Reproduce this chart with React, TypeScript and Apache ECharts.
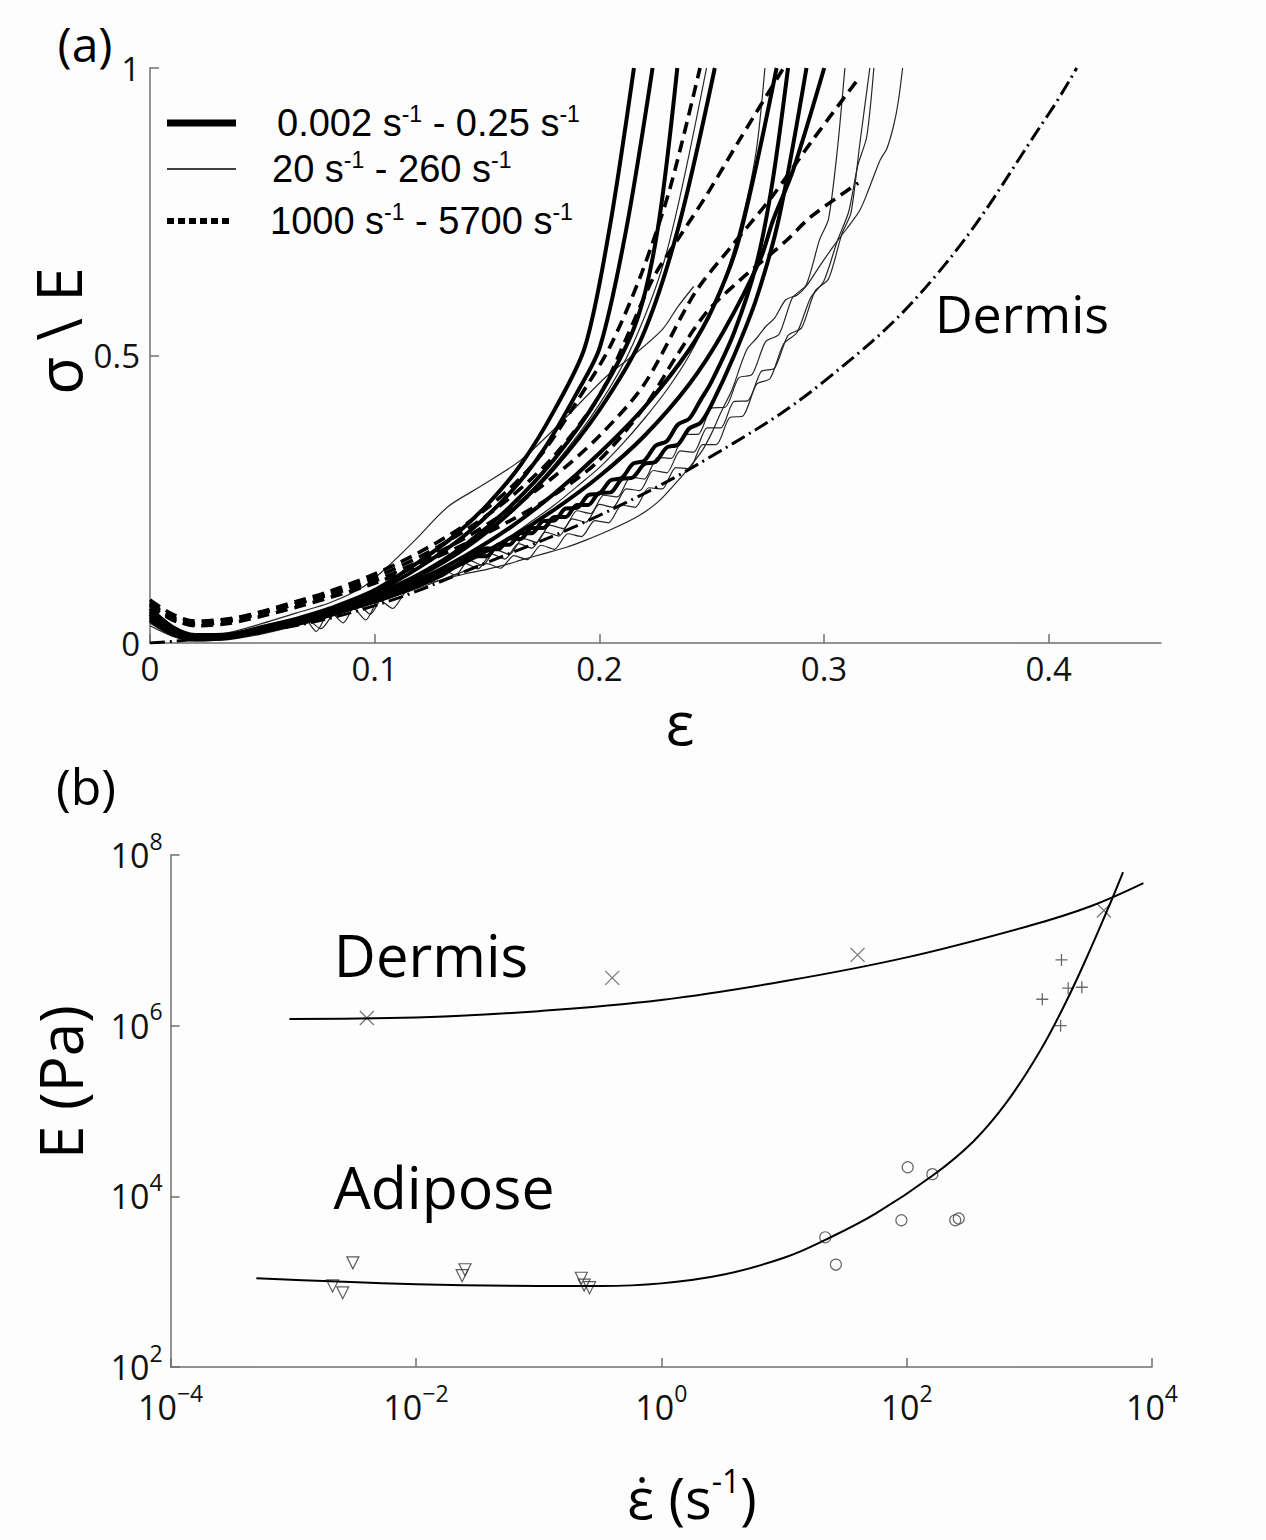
import React, { useEffect, useRef } from "react";
import * as echarts from "echarts";

type Pt = [number, number];

const SANS = "'Open Sans', 'Noto Sans', sans-serif";
const ARIAL = "'Liberation Sans', Arial, sans-serif";

// ---------------- Panel (a): sigma/E versus strain ----------------
const strainTicks = [0, 0.1, 0.2, 0.3, 0.4];
const strainMax = 0.45;
const stressTicks = [0, 0.5, 1];

const legendRates: [string, string][] = [
  ["0.002", "0.25"],
  ["20", "260"],
  ["1000", "5700"],
];

// slow rates (0.002 - 0.25 s-1): thick solid
const slow1: Pt[] = [[0,0.045],[0.01,0.02],[0.02,0.01],[0.035,0.014],[0.05,0.028],[0.065,0.042],[0.08,0.06],[0.1,0.092],[0.12,0.142],[0.135,0.185],[0.15,0.24],[0.165,0.31],[0.18,0.405],[0.1936,0.515],[0.2045,0.72],[0.2154,1.0]];
const slow2: Pt[] = [[0,0.04],[0.01,0.018],[0.02,0.008],[0.035,0.012],[0.05,0.025],[0.065,0.04],[0.08,0.058],[0.1,0.088],[0.12,0.132],[0.14,0.187],[0.16,0.26],[0.175,0.335],[0.19,0.435],[0.2003,0.515],[0.212,0.72],[0.2237,1.0]];
const slow3: Pt[] = [[0,0.055],[0.01,0.025],[0.02,0.012],[0.035,0.014],[0.05,0.026],[0.065,0.04],[0.08,0.056],[0.1,0.084],[0.12,0.12],[0.14,0.17],[0.16,0.236],[0.18,0.32],[0.2,0.43],[0.2166,0.56],[0.226,0.72],[0.2347,1.0]];
const slow4: Pt[] = [[0,0.05],[0.01,0.022],[0.02,0.01],[0.035,0.012],[0.05,0.024],[0.065,0.037],[0.08,0.053],[0.1,0.081],[0.12,0.117],[0.14,0.164],[0.16,0.226],[0.18,0.305],[0.2,0.405],[0.2188,0.53],[0.235,0.72],[0.2514,1.0]];
const slow5: Pt[] = [[0,0.045],[0.01,0.02],[0.02,0.008],[0.035,0.01],[0.05,0.022],[0.065,0.035],[0.08,0.05],[0.1,0.077],[0.12,0.11],[0.14,0.151],[0.16,0.2],[0.18,0.26],[0.2,0.33],[0.22,0.41],[0.24,0.51],[0.2508,0.585],[0.262,0.7],[0.2789,1.0]];
const slow6: Pt[] = [[0,0.06],[0.01,0.028],[0.02,0.014],[0.035,0.015],[0.05,0.026],[0.065,0.038],[0.08,0.052],[0.1,0.076],[0.115,0.098],[0.13,0.123],[0.14,0.142],[0.15,0.165],[0.155,0.163],[0.16,0.182],[0.165,0.181],[0.17,0.2],[0.175,0.2],[0.18,0.219],[0.185,0.219],[0.19,0.24],[0.195,0.24],[0.2,0.261],[0.205,0.262],[0.21,0.285],[0.215,0.288],[0.22,0.311],[0.225,0.315],[0.23,0.34],[0.235,0.345],[0.24,0.373],[0.245,0.383],[0.25,0.415],[0.26,0.5],[0.27,0.6],[0.28,0.74],[0.2922,1.0]];
const slow7: Pt[] = [[0,0.04],[0.01,0.016],[0.02,0.006],[0.035,0.009],[0.05,0.02],[0.065,0.033],[0.08,0.048],[0.1,0.074],[0.12,0.104],[0.14,0.14],[0.16,0.182],[0.18,0.232],[0.2,0.29],[0.22,0.36],[0.24,0.45],[0.255,0.54],[0.2715,0.666],[0.2774,0.736],[0.2863,0.823],[0.3001,1.0]];
const slow8: Pt[] = [[0,0.05],[0.01,0.022],[0.02,0.01],[0.035,0.012],[0.05,0.023],[0.065,0.036],[0.08,0.05],[0.1,0.072],[0.115,0.093],[0.13,0.118],[0.145,0.151],[0.15,0.151],[0.155,0.171],[0.16,0.171],[0.165,0.191],[0.17,0.191],[0.175,0.212],[0.18,0.213],[0.185,0.234],[0.19,0.235],[0.195,0.257],[0.2,0.26],[0.205,0.283],[0.21,0.287],[0.215,0.312],[0.22,0.317],[0.225,0.343],[0.23,0.351],[0.235,0.38],[0.24,0.39],[0.245,0.422],[0.25,0.455],[0.26,0.54],[0.27,0.66],[0.277,0.8],[0.284,1.0]];

// medium rates (20 - 260 s-1): thin
const medium1: Pt[] = [[0,0.03],[0.01,0.012],[0.02,0.004],[0.035,0.006],[0.05,0.016],[0.065,0.03],[0.08,0.047],[0.09,0.06],[0.1,0.072],[0.11,0.086],[0.12,0.1],[0.13,0.11],[0.14,0.12],[0.15,0.128],[0.16,0.138],[0.165,0.144],[0.175,0.155],[0.185,0.166],[0.194,0.179],[0.205,0.197],[0.217,0.22],[0.226,0.245],[0.234,0.278],[0.24,0.305],[0.246,0.336],[0.25,0.365],[0.254,0.4],[0.259,0.44],[0.2656,0.51],[0.27,0.53],[0.274,0.55],[0.278,0.565],[0.283,0.597],[0.288,0.605],[0.292,0.62],[0.298,0.655],[0.304,0.689],[0.31,0.72],[0.316,0.753],[0.32,0.79],[0.325,0.84],[0.328,0.86],[0.331,0.9],[0.333,0.94],[0.335,1.0]];
const medium2: Pt[] = [[0,0.05],[0.01,0.022],[0.02,0.012],[0.035,0.018],[0.05,0.034],[0.065,0.052],[0.08,0.07],[0.095,0.098],[0.105,0.13],[0.118,0.179],[0.1326,0.237],[0.147,0.272],[0.165,0.318],[0.1825,0.382],[0.203,0.463],[0.215,0.5],[0.228,0.545],[0.235,0.585],[0.242,0.62]];
const medium3: Pt[] = [[0,0.04],[0.01,0.016],[0.02,0.006],[0.035,0.01],[0.05,0.021],[0.065,0.034],[0.07,0.04],[0.076,0.025],[0.082,0.052],[0.088,0.06],[0.1,0.07],[0.12,0.1],[0.14,0.138],[0.16,0.185],[0.17,0.212],[0.18,0.24],[0.19,0.272],[0.2,0.305],[0.21,0.345],[0.22,0.39],[0.23,0.44],[0.24,0.5],[0.25,0.58],[0.258,0.66],[0.265,0.76],[0.27,0.86],[0.2737,1.0]];
const medium4: Pt[] = [[0,0.035],[0.01,0.012],[0.02,0.004],[0.035,0.008],[0.05,0.02],[0.065,0.034],[0.08,0.05],[0.09,0.062],[0.096,0.04],[0.102,0.075],[0.108,0.06],[0.114,0.09],[0.12,0.098],[0.13,0.116],[0.14,0.139],[0.146,0.129],[0.152,0.155],[0.158,0.146],[0.164,0.173],[0.17,0.165],[0.176,0.193],[0.182,0.186],[0.188,0.216],[0.194,0.21],[0.2,0.241],[0.206,0.236],[0.212,0.268],[0.218,0.265],[0.224,0.3],[0.23,0.296],[0.236,0.334],[0.242,0.332],[0.248,0.374],[0.254,0.374],[0.26,0.42],[0.266,0.421],[0.272,0.472],[0.278,0.478],[0.284,0.535],[0.29,0.548],[0.296,0.612],[0.302,0.633],[0.308,0.712],[0.312,0.748],[0.316,0.87],[0.3204,1.0]];
const medium5: Pt[] = [[0,0.045],[0.01,0.02],[0.025,0.008],[0.04,0.015],[0.055,0.03],[0.068,0.045],[0.074,0.02],[0.08,0.055],[0.086,0.035],[0.092,0.07],[0.098,0.05],[0.104,0.085],[0.112,0.098],[0.12,0.112],[0.13,0.128],[0.136,0.118],[0.142,0.144],[0.148,0.135],[0.154,0.162],[0.16,0.154],[0.166,0.182],[0.172,0.175],[0.178,0.205],[0.184,0.199],[0.19,0.23],[0.196,0.225],[0.202,0.257],[0.208,0.254],[0.214,0.289],[0.22,0.285],[0.226,0.323],[0.232,0.321],[0.238,0.363],[0.244,0.363],[0.25,0.409],[0.256,0.41],[0.262,0.461],[0.268,0.467],[0.274,0.524],[0.28,0.537],[0.286,0.601],[0.292,0.622],[0.298,0.701],[0.302,0.737],[0.306,0.86],[0.3093,1.0]];
const medium6: Pt[] = [[0,0.045],[0.01,0.018],[0.02,0.008],[0.035,0.012],[0.05,0.026],[0.065,0.04],[0.08,0.056],[0.1,0.085],[0.12,0.12],[0.14,0.166],[0.16,0.228],[0.18,0.31],[0.2,0.415],[0.215,0.52],[0.23,0.68],[0.2477,1.0]];
const medium7: Pt[] = [[0,0.04],[0.01,0.015],[0.02,0.006],[0.035,0.008],[0.05,0.018],[0.065,0.03],[0.08,0.046],[0.1,0.07],[0.12,0.096],[0.14,0.125],[0.15,0.138],[0.156,0.13],[0.162,0.152],[0.168,0.145],[0.174,0.17],[0.18,0.163],[0.186,0.19],[0.192,0.185],[0.198,0.213],[0.204,0.209],[0.21,0.24],[0.216,0.236],[0.222,0.27],[0.228,0.268],[0.234,0.305],[0.24,0.303],[0.246,0.345],[0.252,0.345],[0.258,0.392],[0.264,0.395],[0.27,0.45],[0.276,0.46],[0.282,0.52],[0.288,0.54],[0.294,0.6],[0.3,0.63],[0.306,0.7],[0.311,0.75],[0.315,0.83],[0.319,0.88],[0.3222,1.0]];

// fast rates (1000 - 5700 s-1): dashed
const fast1: Pt[] = [[0,0.07],[0.01,0.045],[0.02,0.035],[0.035,0.04],[0.05,0.055],[0.065,0.072],[0.08,0.09],[0.1,0.12],[0.12,0.158],[0.14,0.205],[0.16,0.268],[0.175,0.332],[0.19,0.42],[0.2047,0.515],[0.2188,0.643],[0.2314,0.79],[0.2448,1.0]];
const fast2: Pt[] = [[0,0.065],[0.01,0.04],[0.02,0.032],[0.035,0.038],[0.05,0.052],[0.065,0.068],[0.08,0.086],[0.1,0.114],[0.12,0.15],[0.14,0.195],[0.16,0.252],[0.18,0.326],[0.2,0.43],[0.212,0.53],[0.2243,0.637],[0.2368,0.713],[0.2479,0.78],[0.2624,0.875],[0.282,1.0]];
const fast3: Pt[] = [[0,0.075],[0.01,0.05],[0.02,0.038],[0.035,0.042],[0.05,0.054],[0.065,0.068],[0.08,0.084],[0.1,0.108],[0.12,0.142],[0.14,0.182],[0.16,0.232],[0.18,0.29],[0.2,0.36],[0.22,0.45],[0.2424,0.608],[0.2586,0.689],[0.2768,0.776],[0.295,0.875],[0.316,0.985]];
const fast4: Pt[] = [[0,0.068],[0.01,0.042],[0.02,0.03],[0.035,0.034],[0.05,0.047],[0.065,0.062],[0.08,0.079],[0.1,0.104],[0.12,0.136],[0.14,0.172],[0.16,0.212],[0.18,0.258],[0.2,0.318],[0.22,0.41],[0.2345,0.5],[0.2477,0.575],[0.2626,0.631],[0.2833,0.7],[0.2941,0.741],[0.3152,0.8]];

// dermis model curve (dash-dot)
const dermisModel: Pt[] = [[0,0],[0.05,0.02],[0.1,0.065],[0.15,0.14],[0.2,0.222],[0.25,0.325],[0.3,0.455],[0.35,0.64],[0.4,0.92],[0.4125,1.0]];

// ---------------- Panel (b): E versus strain rate ----------------
const rateExponents = [-4, -2, 0, 2, 4];
const modulusExponents = [2, 4, 6, 8];

const dermisPoints: Pt[] = [[0.00398,1.23e6],[0.398,3.63e6],[39.8,6.76e6],[4050,2.24e7]];
const dermisFit: Pt[] = [[9.3e-4,1.2e6],[0.01,1.245e6],[0.1,1.48e6],[1,2.0e6],[10,3.31e6],[100,6.31e6],[1000,1.48e7],[3162,2.51e7],[8511,4.68e7]];

const adiposeLowRate: Pt[] = [[0.00209,891],[0.00253,741],[0.00306,1660],[0.0238,1175],[0.0251,1380],[0.223,1096],[0.235,912],[0.26,851]];
const adiposeMidRate: Pt[] = [[21.7,3311],[26.5,1585],[102,2.19e4],[162,1.82e4],[90.6,5250],[249,5250],[266,5500]];
const adiposeHighRate: Pt[] = [[1828,5.89e6],[2075,2.75e6],[2679,2.82e6],[1276,2.04e6],[1799,1.0e6]];
const adiposeFit: Pt[] = [[5.0e-4,1096],[0.01,933],[0.1,891],[0.316,891],[1,955],[3.16,1202],[10,1905],[21.7,3090],[56.2,6310],[162,1.74e4],[348,4.37e4],[652,1.26e5],[1219,5.01e5],[1995,1.91e6],[3090,7.41e6],[4677,2.95e7],[5808,6.31e7]];

const AXIS_COLOR = "#6f6f6f";
const TEXT_COLOR = "#111";

const slowStyle = { color: "#000", width: 4 };
const mediumStyle = { color: "#262626", width: 1.2 };
const fastStyle = { color: "#000", width: 3.6, type: [12, 7] as number[] };
const modelStyle = { color: "#000", width: 3, type: [15, 5, 2, 5] as number[] };

function curve(name: string, data: Pt[], lineStyle: any, smooth: number) {
  return {
    type: "line",
    name,
    xAxisIndex: 0,
    yAxisIndex: 0,
    data,
    symbol: "none",
    showSymbol: false,
    smooth,
    lineStyle,
    silent: true,
  };
}

function expLabel(v: number) {
  const e = Math.round(Math.log10(v));
  const s = e < 0 ? "\u2212" + Math.abs(e) : String(e);
  return "{b|10}{s|" + s + "}";
}

const expRich = {
  b: { fontFamily: SANS, fontSize: 34, lineHeight: 52, verticalAlign: "middle", color: TEXT_COLOR },
  s: { fontFamily: SANS, fontSize: 23, lineHeight: 18, verticalAlign: "top", color: TEXT_COLOR },
};

function legendText(r: [string, string]) {
  return "{t|" + r[0] + " s}{s|-1}{t| - " + r[1] + " s}{s|-1}";
}
const legendRich = {
  t: { fontFamily: ARIAL, fontSize: 38, lineHeight: 42, verticalAlign: "middle", fill: "#000", color: "#000" },
  s: { fontFamily: ARIAL, fontSize: 23, lineHeight: 24, verticalAlign: "top", fill: "#000", color: "#000" },
};

function buildOption() {
  const slowName = "0.002-0.25 s-1";
  const medName = "20-260 s-1";
  const fastName = "1000-5700 s-1";
  const axisLineA = { show: true, lineStyle: { color: AXIS_COLOR, width: 1.5 } };
  const tickA = { show: true, inside: true, length: 9, lineStyle: { color: AXIS_COLOR, width: 1.5 } };

  const seriesA = [
    curve(medName, medium1, mediumStyle, 0.3),
    curve(medName, medium2, mediumStyle, 0.3),
    curve(medName, medium3, mediumStyle, 0.3),
    curve(medName, medium4, mediumStyle, 0.25),
    curve(medName, medium5, mediumStyle, 0.25),
    curve(medName, medium6, mediumStyle, 0.3),
    curve(medName, medium7, mediumStyle, 0.25),
    curve(fastName, fast1, fastStyle, 0.3),
    curve(fastName, fast2, fastStyle, 0.3),
    curve(fastName, fast3, fastStyle, 0.3),
    curve(fastName, fast4, fastStyle, 0.3),
    curve(slowName, slow1, slowStyle, 0.3),
    curve(slowName, slow2, slowStyle, 0.3),
    curve(slowName, slow3, slowStyle, 0.3),
    curve(slowName, slow4, slowStyle, 0.3),
    curve(slowName, slow5, slowStyle, 0.3),
    curve(slowName, slow6, slowStyle, 0.3),
    curve(slowName, slow7, slowStyle, 0.3),
    curve(slowName, slow8, slowStyle, 0.3),
    curve("Dermis model", dermisModel, modelStyle, 0.4),
  ];

  const markerStroke = (c: string, w: number) => ({ color: "rgba(0,0,0,0)", borderColor: c, borderWidth: w });

  const seriesB = [
    {
      type: "line", name: "Dermis fit", xAxisIndex: 1, yAxisIndex: 1, data: dermisFit,
      symbol: "none", showSymbol: false, smooth: 0.4, lineStyle: { color: "#000", width: 2 }, silent: true,
    },
    {
      type: "line", name: "Adipose fit", xAxisIndex: 1, yAxisIndex: 1, data: adiposeFit,
      symbol: "none", showSymbol: false, smooth: 0.4, lineStyle: { color: "#000", width: 2 }, silent: true,
    },
    {
      type: "scatter", name: "Dermis", xAxisIndex: 1, yAxisIndex: 1, data: dermisPoints,
      symbol: "path://M0,0L10,10M10,0L0,10", symbolSize: 14, itemStyle: markerStroke("#555", 1.3), silent: true,
    },
    {
      type: "scatter", name: "Adipose (low rate)", xAxisIndex: 1, yAxisIndex: 1, data: adiposeLowRate,
      symbol: "triangle", symbolRotate: 180, symbolSize: 12, itemStyle: markerStroke("#333", 1.2), silent: true,
    },
    {
      type: "scatter", name: "Adipose (medium rate)", xAxisIndex: 1, yAxisIndex: 1, data: adiposeMidRate,
      symbol: "circle", symbolSize: 11, itemStyle: markerStroke("#444", 1.2), silent: true,
    },
    {
      type: "scatter", name: "Adipose (high rate)", xAxisIndex: 1, yAxisIndex: 1, data: adiposeHighRate,
      symbol: "path://M5,0L5,10M0,5L10,5", symbolSize: 12, itemStyle: markerStroke("#444", 1.3), silent: true,
    },
  ];

  const legendRows = [
    { y: 123, x1: 167, x2: 236, w: 7, dash: null as number[] | null, tx: 277 },
    { y: 169, x1: 167, x2: 236, w: 1.5, dash: null as number[] | null, tx: 272 },
    { y: 221, x1: 167, x2: 232, w: 6, dash: [7, 4] as number[] | null, tx: 270 },
  ];
  const legendGraphics: any[] = [];
  legendRows.forEach((r, i) => {
    legendGraphics.push({
      type: "line",
      shape: { x1: r.x1, y1: r.y, x2: r.x2, y2: r.y },
      style: { stroke: "#000", lineWidth: r.w, lineDash: r.dash || undefined, lineCap: "butt" },
      silent: true,
    });
    legendGraphics.push({
      type: "text",
      x: r.tx,
      y: r.y,
      style: {
        text: legendText(legendRates[i]),
        rich: legendRich,
        align: "left",
        verticalAlign: "middle",
        fill: "#000",
      },
      silent: true,
    });
  });

  const bigText = (text: string, x: number, y: number, size: number, rotation = 0) => ({
    type: "text",
    x, y, rotation,
    style: { text, fontFamily: SANS, fontSize: size, fill: "#000", align: "center", verticalAlign: "middle" },
    silent: true,
  });

  return {
    animation: false,
    backgroundColor: "#fdfdfd",
    grid: [
      { left: 150, top: 68, width: 1011, height: 575, containLabel: false, outerBoundsMode: "none" },
      { left: 170.6, top: 855, width: 981.4, height: 512, containLabel: false, outerBoundsMode: "none" },
    ],
    xAxis: [
      {
        gridIndex: 0, type: "value", min: 0, max: strainMax, interval: 0.1,
        axisLine: axisLineA,
        axisTick: { ...tickA, customValues: strainTicks },
        axisLabel: { customValues: strainTicks, fontFamily: SANS, fontSize: 33, color: TEXT_COLOR, margin: 9, formatter: (v: number) => String(v) },
        splitLine: { show: false },
      },
      {
        gridIndex: 1, type: "log", logBase: 10,
        min: Math.pow(10, rateExponents[0]), max: Math.pow(10, rateExponents[rateExponents.length - 1]), interval: 2,
        axisLine: axisLineA,
        axisTick: tickA,
        minorTick: { show: false },
        axisLabel: { formatter: expLabel, rich: expRich, margin: 14 },
        splitLine: { show: false },
        minorSplitLine: { show: false },
      },
    ],
    yAxis: [
      {
        gridIndex: 0, type: "value", min: stressTicks[0], max: stressTicks[stressTicks.length - 1], interval: 0.5,
        axisLine: axisLineA,
        axisTick: tickA,
        axisLabel: { fontFamily: SANS, fontSize: 33, color: TEXT_COLOR, margin: 10, formatter: (v: number) => String(v) },
        splitLine: { show: false },
      },
      {
        gridIndex: 1, type: "log", logBase: 10,
        min: Math.pow(10, modulusExponents[0]), max: Math.pow(10, modulusExponents[modulusExponents.length - 1]), interval: 2,
        axisLine: axisLineA,
        axisTick: tickA,
        minorTick: { show: false },
        axisLabel: { formatter: expLabel, rich: expRich, margin: 8, align: "right" },
        splitLine: { show: false },
        minorSplitLine: { show: false },
      },
    ],
    series: [...seriesA, ...seriesB],
    graphic: [
      ...legendGraphics,
      bigText("(a)", 85, 43, 48),
      bigText("(b)", 86, 786, 50),
      bigText("\u03c3 \\ E", 58, 331, 62, Math.PI / 2),
      bigText("\u03b5", 680, 722, 60),
      bigText("Dermis", 1022, 312, 52),
      bigText("Dermis", 431, 954, 58),
      bigText("Adipose", 444, 1186, 59),
      bigText("E (Pa)", 60, 1082, 60, Math.PI / 2),
      {
        type: "text",
        x: 692,
        y: 1497,
        style: {
          text: "{t|\u03b5\u0307 (s}{s|-1}{t|)}",
          rich: {
            t: { fontFamily: SANS, fontSize: 56, lineHeight: 66, verticalAlign: "middle", fill: "#000", color: "#000" },
            s: { fontFamily: SANS, fontSize: 32, lineHeight: 34, verticalAlign: "top", fill: "#000", color: "#000" },
          },
          align: "center",
          verticalAlign: "middle",
          fill: "#000",
        },
        silent: true,
      },
    ],
  };
}

export default function App() {
  const ref = useRef<HTMLDivElement | null>(null);
  useEffect(() => {
    if (!ref.current) return;
    const chart = echarts.init(ref.current, null, { renderer: "svg" });
    chart.setOption(buildOption() as any);
    return () => {
      chart.dispose();
    };
  }, []);
  return (
    <div
      ref={ref}
      style={{ position: "absolute", left: 0, top: 0, width: 1266, height: 1540, background: "#fdfdfd" }}
    />
  );
}
